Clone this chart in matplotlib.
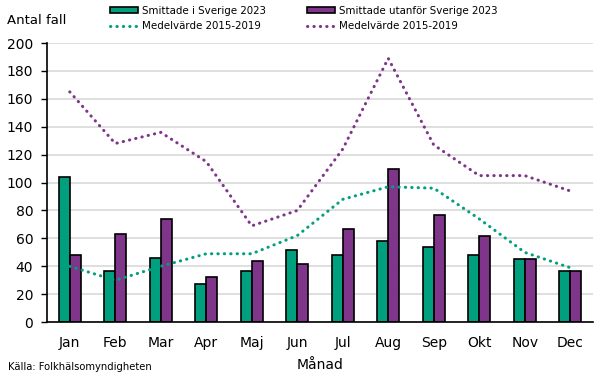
import numpy as np
import matplotlib.pyplot as plt
from matplotlib.patches import Patch
from matplotlib.lines import Line2D

months = ["Jan", "Feb", "Mar", "Apr", "Maj", "Jun", "Jul", "Aug", "Sep", "Okt", "Nov", "Dec"]
sverige_2023 = [104, 37, 46, 27, 37, 52, 48, 58, 54, 48, 45, 37]
utanfor_2023 = [48, 63, 74, 32, 44, 42, 67, 110, 77, 62, 45, 37]
medel_sverige = [40, 30, 40, 49, 49, 62, 88, 97, 96, 74, 50, 39]
medel_utanfor = [165, 128, 136, 115, 69, 80, 124, 189, 127, 105, 105, 94]

green = "#00a07f"
purple = "#7f358a"

plt.rcParams['font.family'] = ['DejaVu Sans']

fig = plt.figure(figsize=(6.06, 3.79), dpi=100)
ax = fig.add_axes([0.0776, 0.150, 0.9009, 0.7365])

x = np.arange(len(months))
w = 0.24
ax.bar(x - w / 2, sverige_2023, w, color=green, edgecolor="black", linewidth=1.2, zorder=3)
ax.bar(x + w / 2, utanfor_2023, w, color=purple, edgecolor="black", linewidth=1.2, zorder=3)

dot = (0, (0.1, 2.0))
lw = 2.2
ax.plot(x, medel_sverige, color=green, lw=lw, linestyle=dot, dash_capstyle="round", zorder=4)
ax.plot(x, medel_utanfor, color=purple, lw=lw, linestyle=dot, dash_capstyle="round", zorder=4)

ax.set_xlim(-0.5, 11.5)
ax.set_ylim(0, 200)
ax.set_yticks(range(0, 201, 20))
ax.set_xticks(x)
ax.set_xticklabels(months)
ax.tick_params(axis="y", length=4, width=1, labelsize=10, pad=6)
ax.tick_params(axis="x", length=0, labelsize=10, pad=10)
ax.yaxis.grid(True, color="#d9d9d9", lw=1.2, zorder=0)
ax.set_axisbelow(True)
for s in ["top", "right"]:
    ax.spines[s].set_visible(False)
ax.spines["left"].set_linewidth(1.2)
ax.spines["bottom"].set_linewidth(1.2)
ax.spines["bottom"].set_zorder(5)
ax.set_xlabel("Månad", fontsize=10, labelpad=6)

leg_kw = dict(loc="upper left", frameon=False, fontsize=7.4, handlelength=2.8,
              handleheight=0.5, handletextpad=0.35, labelspacing=0.5,
              borderpad=0, borderaxespad=0)
col1 = [
    Patch(facecolor=green, edgecolor="black", linewidth=1.2, label="Smittade i Sverige 2023"),
    Line2D([], [], color=green, lw=lw, linestyle=dot, dash_capstyle="round", label="Medelvärde 2015-2019"),
]
col2 = [
    Patch(facecolor=purple, edgecolor="black", linewidth=1.2, label="Smittade utanför Sverige 2023"),
    Line2D([], [], color=purple, lw=lw, linestyle=dot, dash_capstyle="round", label="Medelvärde 2015-2019"),
]
fig.legend(handles=col1, bbox_to_anchor=(0.181, 0.985), **leg_kw)
fig.legend(handles=col2, bbox_to_anchor=(0.506, 0.985), **leg_kw)

fig.text(0.012, 0.962, "Antal fall", fontsize=9.5, va="top")
fig.text(0.013, 0.018, "Källa: Folkhälsomyndigheten", fontsize=7.2, va="bottom")

fig.savefig("out.png", dpi=100)
